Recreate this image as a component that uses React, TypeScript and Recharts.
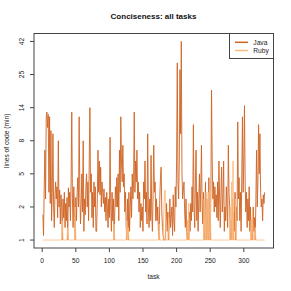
import { LineChart, Line, XAxis, YAxis } from "recharts";

// y tick labels sit at evenly spaced positions on the axis
const Y_TICK_LABELS = [1, 2, 5, 8, 14, 25, 42];
const X_TICKS = [0, 50, 100, 150, 200, 250, 300];

// lines of code relative to the shorter solution, one value per task
const JAVA = [
  1.7, 1.1, 3.5, 7, 2.5, 12, 13, 10, 12.5, 3, 12, 2.2, 9.5, 1.5, 3, 9, 2, 1.3, 2.8, 4,
  2.5, 3.5, 1.6, 8, 2, 3.2, 1.4, 2.8, 2, 1, 2.5, 1.6, 3, 1.3, 2.2, 1.5, 2.6, 1, 3.4, 2,
  3, 1.5, 4, 13, 2.5, 1.3, 3.5, 1.8, 1, 2.6, 1.5, 3, 4.5, 2, 12, 3, 1.4, 2.2, 5, 1.8,
  8, 1.2, 2.5, 1.7, 3.5, 5, 2, 4, 1.5, 6, 14, 3, 5, 1.6, 3, 1.3, 4, 2, 3.5, 1.2,
  1.2, 2.5, 7, 3, 6, 2.8, 5.5, 2, 4, 3, 2.2, 3.3, 1.8, 2.6, 1.5, 3, 2, 1.3, 2.5, 1.6,
  8.5, 2, 1.2, 3, 1.5, 2.5, 1, 1.8, 3.5, 2, 4.5, 2, 5, 1.5, 7, 3, 12, 6, 4, 7.5,
  3.5, 5, 1.8, 3, 1.3, 1, 2.5, 1, 3, 1.2, 2, 3.5, 1.6, 5, 2.5, 4, 13, 3, 6, 4,
  7, 2.5, 4, 1.8, 3, 1.3, 2.2, 1.5, 2, 1.2, 4, 2.5, 6, 1.8, 3, 1.4, 9, 2, 1.3, 2.5,
  1.5, 6.5, 1.8, 1.2, 2.8, 7.5, 3, 4, 1.5, 2.5, 1.5, 2, 1.2, 1, 2.5, 4.5, 5.5, 1.8, 1.3, 1.1,
  1, 1, 1, 1.5, 2.2, 1.2, 1.8, 1, 1.4, 2.5, 1.3, 1.6, 2, 1.1, 2.8, 1.5, 1.2, 3.5, 2, 6,
  30, 4, 2.5, 6, 27, 9, 42, 5, 2.5, 3.2, 4, 1.8, 1.3, 2.5, 1.2, 1, 1.5, 1, 1.8, 1.2,
  2.2, 1.5, 3.5, 1.8, 10.5, 2, 1.3, 4, 7, 1.5, 3, 1.2, 2.5, 5, 1.8, 3.5, 7.5, 2, 1.4, 3,
  1, 1.5, 4, 1, 2.5, 1.2, 1, 4.5, 1.3, 1, 3, 19, 6, 2.5, 4, 1.8, 3.5, 2, 2.8, 1.6,
  4, 1.5, 6, 2.5, 1.3, 3, 5.5, 1.8, 2.5, 6, 1.2, 2, 1.5, 3.5, 2, 1.3, 7.5, 3, 2, 1,
  1.5, 1, 2.5, 1, 1.8, 1.2, 3, 1, 2, 1.5, 11, 2.5, 4.5, 1.5, 3, 1.2, 5, 12, 3, 6,
  14.5, 4, 1.8, 3, 1.3, 2.5, 1.5, 3.5, 1.2, 2, 1, 1.5, 1, 2, 1.2, 1.6, 1, 2.5, 7, 2,
  4, 10.5, 5, 9, 3, 2, 2.5, 1.5, 2.8, 2.2, 3,
];

const RUBY = [
  1, 1, 1, 1, 1, 1, 1, 1, 1, 1, 1, 1, 1, 1, 1, 1, 1, 1, 1, 1,
  1, 1, 1, 1, 1, 1, 1, 1, 1, 1.5, 1, 1, 1, 1, 1, 1, 1, 1.3, 1, 1,
  1, 1, 1, 1, 1, 1, 1, 1, 2, 1, 1, 1, 1, 1, 1, 1, 1, 1, 1, 1,
  1, 1, 1, 1, 1, 1, 1, 1, 1, 1, 1, 1, 1, 1, 1, 1, 1, 1, 1, 1,
  1, 1, 1, 1, 1, 1, 1, 1, 1, 1, 1, 1, 1, 1, 1, 1, 1, 1, 1, 1,
  1, 1, 1, 1, 1, 1, 1.4, 1, 1, 1, 1, 1, 1, 1, 1, 1, 1, 1, 1, 1,
  1, 1, 1, 1, 1, 1.5, 1, 1.3, 1, 1, 1, 1, 1, 1, 1, 1, 1, 1, 1, 1,
  1, 1, 1, 1, 1, 1, 1, 1, 1, 1, 1, 1, 1, 1, 1, 1, 1, 1, 1, 1,
  1, 1, 1, 1, 1, 1, 1, 1, 1, 1, 1, 1, 1, 1.4, 1, 1, 1, 1, 1, 1,
  1.8, 3, 3.2, 1, 1, 1, 1, 1.6, 1, 1, 1, 1, 1, 1, 1, 1, 1, 1, 1, 1,
  1, 1, 1, 1, 1, 1, 1, 1, 1, 1, 1, 1, 1, 1, 1, 1.5, 1, 2.2, 1, 1,
  1, 1, 1, 1, 1, 1, 1, 1, 1, 1, 1, 1, 1, 1, 1, 1, 1, 1, 1, 1,
  2.5, 1, 1, 3, 1, 1, 3, 1, 1, 3.2, 1, 1, 1, 1, 1, 1, 1, 1, 1, 1,
  1, 1, 1, 1, 1, 1, 1, 1, 1, 1, 1, 1, 1, 1, 1, 1, 1, 1, 1, 2,
  1, 4, 1, 6, 1, 1, 1, 2.5, 1, 1, 1, 1, 1, 1, 1, 1, 1, 1, 1, 1,
  1, 1, 1, 1, 1, 1, 1, 1, 1, 1, 1.5, 1, 1.8, 1, 1, 1, 1.3, 1, 1, 1,
  1, 1, 1, 1, 1, 1, 1, 1, 1, 1, 1,
];

const JAVA_COLOR = "#cf6322";
const RUBY_COLOR = "#fdbb7f";
const FONT = "'Liberation Sans', Arial, sans-serif";

// position on the y axis: log interpolation between the evenly spaced ticks
const toPos = (v: number) => {
  const t = Y_TICK_LABELS;
  for (let i = 0; i < t.length - 1; i++) {
    if (v <= t[i + 1]) return i + Math.log(v / t[i]) / Math.log(t[i + 1] / t[i]);
  }
  return t.length - 1;
};

const data = JAVA.map((j, i) => ({
  task: i + 1,
  java: toPos(j),
  ruby: toPos(RUBY[i]),
}));

// R draws y tick labels parallel to the axis
const YTick = (props: { x?: number; y?: number; payload?: { value: number } }) => {
  const { x = 0, y = 0, payload } = props;
  if (!payload) return null;
  return (
    <text
      x={x}
      y={y}
      transform={`rotate(-90, ${x}, ${y})`}
      textAnchor="middle"
      fontSize={6.67}
      fontFamily={FONT}
      fill="#222"
    >
      {Y_TICK_LABELS[payload.value]}
    </text>
  );
};

export default function App() {
  return (
    <div style={{ position: "absolute", left: 0, top: 0, width: 291, height: 291, background: "#fff" }}>
      <LineChart
        width={291}
        height={291}
        data={data}
        margin={{ top: 33.5, right: 17.5, left: 0, bottom: 0 }}
      >
        <XAxis
          dataKey="task"
          type="number"
          domain={[-12.2, 344.2]}
          ticks={X_TICKS}
          allowDataOverflow
          height={43}
          tickSize={4}
          tickMargin={6}
          axisLine={false}
          tickLine={{ stroke: "#444" }}
          tick={{ fontSize: 6.67, fill: "#222", fontFamily: FONT }}
        />
        <YAxis
          type="number"
          domain={[-0.24, 6.24]}
          ticks={[0, 1, 2, 3, 4, 5, 6]}
          allowDataOverflow
          width={34}
          tickSize={4}
          tickMargin={6}
          axisLine={false}
          tickLine={{ stroke: "#444" }}
          tick={<YTick />}
        />
        <Line
          type="linear"
          dataKey="java"
          stroke={JAVA_COLOR}
          strokeWidth={0.9}
          dot={false}
          isAnimationActive={false}
        />
        <Line
          type="linear"
          dataKey="ruby"
          stroke={RUBY_COLOR}
          strokeWidth={0.9}
          dot={false}
          isAnimationActive={false}
        />
      </LineChart>
      <svg
        width={291}
        height={291}
        style={{ position: "absolute", left: 0, top: 0, pointerEvents: "none" }}
        fontFamily={FONT}
      >
        <rect x={34} y={33.5} width={239.5} height={214.5} fill="none" stroke="#444" strokeWidth={1} />
        <text x={153.5} y={19} textAnchor="middle" fontSize={8} fontWeight="bold" fill="#111">
          Conciseness: all tasks
        </text>
        <text x={153.5} y={279} textAnchor="middle" fontSize={6.67} fill="#222">
          task
        </text>
        <text transform="translate(8.5,140.75) rotate(-90)" textAnchor="middle" fontSize={6.67} fill="#222">
          lines of code (min)
        </text>
        {/* legend */}
        <rect x={229.5} y={33.5} width={44} height={25} fill="#fff" stroke="#444" strokeWidth={1} />
        <line x1={235} x2={248} y1={42.3} y2={42.3} stroke={JAVA_COLOR} strokeWidth={1.5} />
        <line x1={235} x2={248} y1={50.5} y2={50.5} stroke={RUBY_COLOR} strokeWidth={1.5} />
        <text x={253.3} y={44.7} fontSize={6.67} fill="#222">Java</text>
        <text x={253.3} y={53} fontSize={6.67} fill="#222">Ruby</text>
      </svg>
    </div>
  );
}
